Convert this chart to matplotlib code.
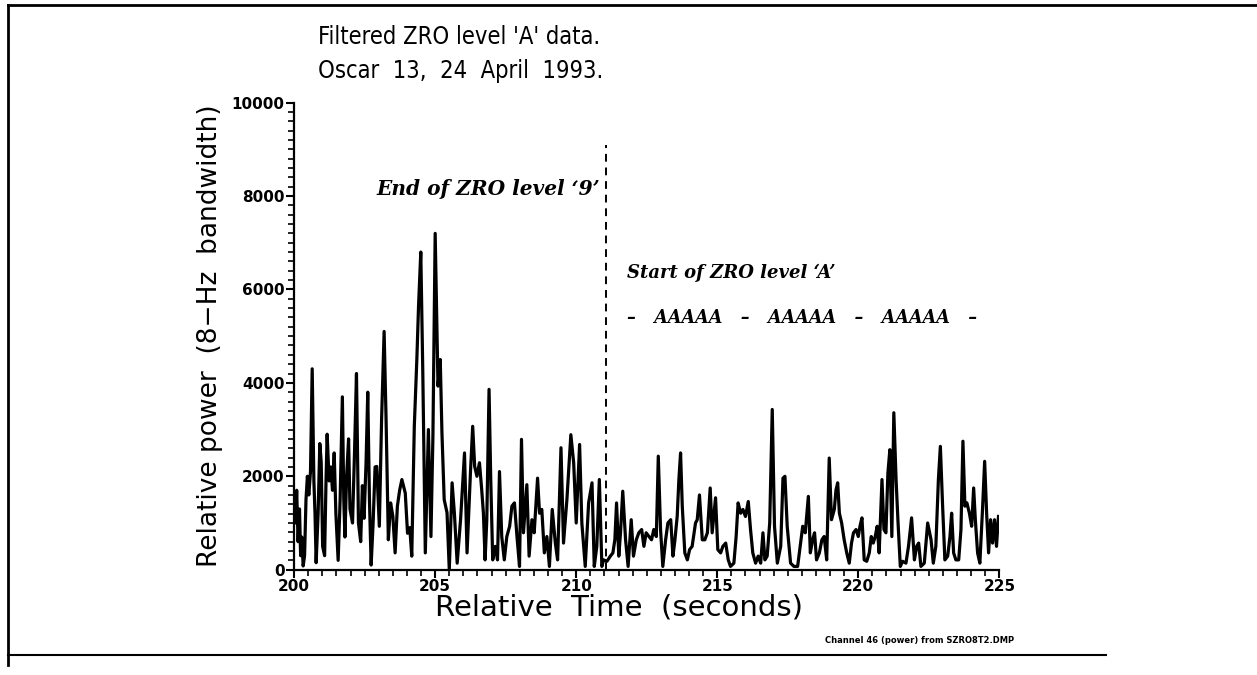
import numpy as np
import matplotlib.pyplot as plt
from matplotlib.ticker import MultipleLocator
from matplotlib.lines import Line2D

# Relative time (s) and relative power
t = [200.00, 200.05, 200.09, 200.14, 200.19, 200.23, 200.27, 200.32, 200.37, 200.42,
     200.47, 200.52, 200.58, 200.64, 200.70, 200.74, 200.78, 200.85, 200.91, 200.96,
     201.01, 201.08, 201.13, 201.17, 201.24, 201.30, 201.36, 201.42, 201.48, 201.56,
     201.63, 201.71, 201.76, 201.80, 201.86, 201.93, 201.98, 202.07, 202.14, 202.21,
     202.28, 202.36, 202.42, 202.48, 202.55, 202.61, 202.67, 202.73, 202.80, 202.87,
     202.93, 203.02, 203.10, 203.19, 203.26, 203.34, 203.42, 203.50, 203.58, 203.66,
     203.74, 203.82, 203.94, 204.02, 204.10, 204.17, 204.26, 204.35, 204.41, 204.49,
     204.56, 204.65, 204.76, 204.85, 204.92, 205.00, 205.10, 205.18, 205.24, 205.32,
     205.42, 205.50, 205.60, 205.68, 205.78, 205.90, 206.04, 206.13, 206.25, 206.33,
     206.40, 206.48, 206.57, 206.65, 206.71, 206.77, 206.83, 206.91, 206.97, 207.04,
     207.13, 207.21, 207.28, 207.36, 207.45, 207.54, 207.64, 207.72, 207.81, 207.90,
     207.99, 208.06, 208.13, 208.25, 208.33, 208.43, 208.51, 208.63, 208.70, 208.78,
     208.87, 208.96, 209.05, 209.15, 209.26, 209.34, 209.46, 209.55, 209.67, 209.81,
     209.91, 210.00, 210.12, 210.20, 210.32, 210.44, 210.56, 210.64, 210.73, 210.82,
     210.91, 210.97, 211.09, 211.21, 211.30, 211.37, 211.43, 211.51, 211.57, 211.65,
     211.75, 211.84, 211.95, 212.03, 212.13, 212.22, 212.32, 212.40, 212.48, 212.58,
     212.67, 212.75, 212.84, 212.91, 212.99, 213.07, 213.17, 213.25, 213.35, 213.43,
     213.50, 213.58, 213.64, 213.70, 213.76, 213.85, 213.94, 214.02, 214.11, 214.23,
     214.29, 214.37, 214.47, 214.56, 214.65, 214.75, 214.82, 214.94, 215.02, 215.12,
     215.20, 215.30, 215.39, 215.47, 215.59, 215.67, 215.74, 215.83, 215.91, 216.00,
     216.10, 216.18, 216.26, 216.36, 216.45, 216.54, 216.62, 216.69, 216.77, 216.86,
     216.95, 217.03, 217.13, 217.25, 217.33, 217.40, 217.48, 217.60, 217.72, 217.85,
     217.97, 218.03, 218.12, 218.23, 218.30, 218.38, 218.45, 218.52, 218.62, 218.71,
     218.79, 218.88, 218.97, 219.05, 219.15, 219.21, 219.27, 219.33, 219.41, 219.50,
     219.59, 219.68, 219.76, 219.83, 219.92, 220.00, 220.06, 220.13, 220.21, 220.30,
     220.39, 220.46, 220.53, 220.60, 220.67, 220.74, 220.84, 220.91, 220.98, 221.05,
     221.12, 221.19, 221.26, 221.34, 221.41, 221.49, 221.57, 221.69, 221.78, 221.89,
     221.99, 222.07, 222.14, 222.22, 222.34, 222.46, 222.58, 222.66, 222.75, 222.84,
     222.91, 222.99, 223.07, 223.17, 223.25, 223.31, 223.38, 223.46, 223.56, 223.64,
     223.71, 223.78, 223.85, 223.94, 224.02, 224.09, 224.15, 224.23, 224.31, 224.41,
     224.48, 224.55, 224.62, 224.69, 224.76, 224.83, 224.90, 224.97]

power = [1500, 1000, 1700, 600, 1300, 300, 700, 80, 300, 1500,
         2000, 1600, 2100, 4300, 1900, 1200, 150, 1200, 2700, 2300,
         500, 300, 1900, 2900, 1900, 2200, 1700, 2500, 1200, 200,
         1500, 3700, 1500, 700, 2000, 2800, 1300, 1000, 2500, 4200,
         1000, 600, 1800, 1100, 2300, 3800, 1500, 100, 1000, 2200,
         2210, 930, 3210, 5100, 3200, 640, 1430, 1140, 360, 1360,
         1700, 1930, 1640, 780, 900, 290, 3070, 4500, 5640, 6800,
         4280, 360, 3000, 710, 2860, 7200, 3930, 4500, 2930, 1500,
         1220, 0, 1860, 1220, 140, 1070, 2500, 360, 2070, 3070,
         2210, 2000, 2290, 1710, 1210, 210, 1070, 3860, 1930, 210,
         500, 210, 2100, 710, 210, 710, 930, 1360, 1430, 710,
         70, 2790, 790, 1820, 290, 1070, 790, 1960, 1210, 1290,
         360, 710, 70, 1290, 570, 210, 2610, 570, 1500, 2890,
         2290, 1000, 2680, 1000, 70, 1430, 1860, 70, 500, 1930,
         70, 210, 180, 290, 360, 640, 1430, 290, 790, 1680,
         640, 70, 1070, 290, 640, 790, 860, 500, 790, 710,
         640, 860, 710, 2430, 860, 70, 640, 1000, 1070, 290,
         640, 1140, 1930, 2500, 1360, 360, 210, 430, 500, 1000,
         1070, 1600, 640, 640, 790, 1750, 790, 1540, 430, 360,
         500, 570, 210, 70, 140, 710, 1430, 1210, 1290, 1140,
         1460, 860, 360, 140, 290, 140, 790, 210, 290, 1000,
         3430, 930, 140, 500, 1960, 2000, 930, 140, 70, 70,
         640, 930, 790, 1570, 360, 640, 790, 210, 360, 640,
         710, 210, 2390, 1070, 1290, 1710, 1860, 1210, 1000, 640,
         360, 140, 570, 790, 860, 710, 930, 1110, 210, 180,
         360, 710, 570, 710, 930, 360, 1930, 860, 790, 2070,
         2570, 710, 3360, 1930, 1000, 70, 180, 140, 500, 1110,
         210, 500, 570, 70, 140, 1000, 640, 140, 500, 1930,
         2640, 1360, 210, 290, 710, 1210, 360, 210, 210, 860,
         2750, 1360, 1430, 1210, 930, 1750, 1070, 360, 140, 1360,
         2320, 1210, 360, 1070, 570, 1070, 500, 1140]

boundary_time = 211.05
boundary_top = 9100

fig = plt.figure(figsize=(12.57, 6.75), dpi=100)
ax = fig.add_axes([0.234, 0.156, 0.561, 0.692])

ax.plot(t, power, color='black', linewidth=2.3)
ax.plot([boundary_time, boundary_time], [0, boundary_top], color='black',
        linestyle=(0, (4, 3)), linewidth=1.4)

ax.set_xlim(200, 225)
ax.set_ylim(0, 10000)
ax.spines['top'].set_visible(False)
ax.spines['right'].set_visible(False)
ax.spines['left'].set_linewidth(1.6)
ax.spines['bottom'].set_linewidth(1.6)
ax.xaxis.set_major_locator(MultipleLocator(5))
ax.xaxis.set_minor_locator(MultipleLocator(0.5))
ax.yaxis.set_major_locator(MultipleLocator(2000))
ax.yaxis.set_minor_locator(MultipleLocator(200))
ax.tick_params(which='major', direction='out', length=6, width=1.5, labelsize=11, pad=1)
ax.tick_params(which='minor', direction='out', length=4, width=1.2)
for lab in ax.get_xticklabels() + ax.get_yticklabels():
    lab.set_fontweight('bold')

ax.set_xlabel('Relative  Time  (seconds)', fontsize=21)
ax.xaxis.set_label_coords(0.46, -0.052)
ax.set_ylabel('Relative power  (8\u2212Hz  bandwidth)', fontsize=19, labelpad=6)

fig.text(0.253, 0.935, "Filtered ZRO level 'A' data.", fontsize=17,
         fontstretch='condensed', va='baseline')
fig.text(0.253, 0.885, "Oscar  13,  24  April  1993.", fontsize=17,
         fontstretch='condensed', va='baseline')

serif = dict(family='DejaVu Serif', fontweight='bold', style='italic')
ax.text(210.85, 8150, "End of ZRO level \u20189\u2019", ha='right', va='center',
        fontsize=14.5, **serif)
ax.text(211.8, 6350, "Start of ZRO level \u2018A\u2019", ha='left', va='center',
        fontsize=13, **serif)
ax.text(211.8, 5380, "\u2013   AAAAA   \u2013   AAAAA   \u2013   AAAAA   \u2013",
        ha='left', va='center', fontsize=12.7, **serif)

fig.text(0.656, 0.051, 'Channel 46 (power) from SZRO8T2.DMP', fontsize=6,
         fontweight='bold', va='center')

# page frame
fig.add_artist(Line2D([0.006, 1.0], [0.993, 0.993], color='black', linewidth=2))
fig.add_artist(Line2D([0.006, 0.006], [0.015, 0.993], color='black', linewidth=2))
fig.add_artist(Line2D([0.006, 0.88], [0.029, 0.029], color='black', linewidth=1.5))

fig.savefig('out.png', dpi=100)
